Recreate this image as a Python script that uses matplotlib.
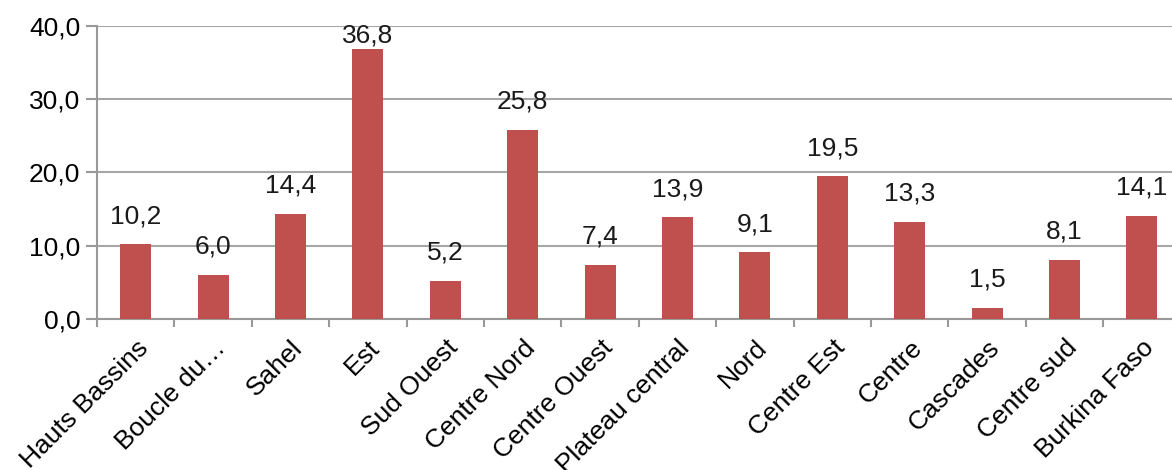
import numpy as np
import matplotlib.pyplot as plt

regions = ['Hauts Bassins', 'Boucle du…', 'Sahel', 'Est', 'Sud Ouest', 'Centre Nord',
           'Centre Ouest', 'Plateau central', 'Nord', 'Centre Est', 'Centre',
           'Cascades', 'Centre sud', 'Burkina Faso']
values = [10.2, 6.0, 14.4, 36.8, 5.2, 25.8, 7.4, 13.9, 9.1, 19.5, 13.3, 1.5, 8.1, 14.1]
yticks = [0, 10, 20, 30, 40]

plt.rcParams['font.family'] = ['Liberation Sans', 'DejaVu Sans']

fig = plt.figure(figsize=(11.72, 4.70), dpi=100)
ax = fig.add_axes([0.0828, 0.3213, 0.9246, 0.6234])

x = np.arange(len(values))
ax.bar(x, values, width=0.4, color='#C0504D', zorder=3)
for xi, v in zip(x, values):
    # excel pushes the top label down so it stays in the plot area
    ax.text(xi, min(v + 2.2, 37.1), ('%.1f' % v).replace('.', ','), ha='center', va='bottom',
            fontsize=19, color='#1a1a1a', zorder=4)

ax.set_xlim(-0.5, len(values) - 0.5)
ax.set_ylim(0, 40)
ax.set_yticks(yticks)
ax.set_yticklabels([('%.1f' % t).replace('.', ',') for t in yticks], fontsize=19)
ax.yaxis.grid(True, color='#A6A6A6', linewidth=1.5, zorder=0)

ax.set_xticks(x)
ax.set_xticklabels(regions, rotation=45, ha='right', rotation_mode='anchor', fontsize=19)
ax.set_xticks(np.arange(len(values) + 1) - 0.5, minor=True)
ax.tick_params(axis='x', which='major', length=0, pad=12)
ax.tick_params(axis='x', which='minor', length=6, width=1.5, color='#999999', direction='out')
ax.tick_params(axis='y', length=8, width=1.5, color='#999999', pad=4)

for s in ['top', 'right']:
    ax.spines[s].set_visible(False)
for s in ['left', 'bottom']:
    ax.spines[s].set_color('#999999')
    ax.spines[s].set_linewidth(1.5)

fig.savefig('out.png', dpi=100)
